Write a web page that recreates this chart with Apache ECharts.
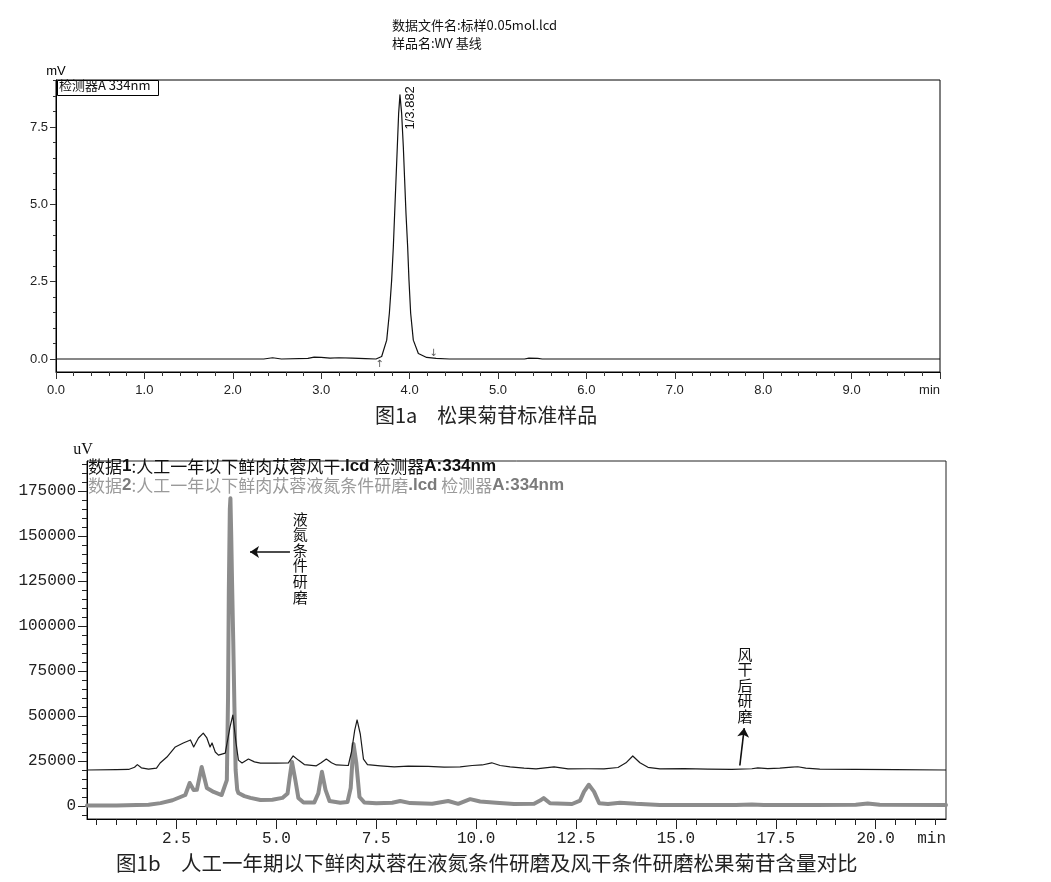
<!DOCTYPE html>
<html><head><meta charset="utf-8">
<script src="https://cdn.jsdelivr.net/npm/echarts@6/dist/echarts.min.js"></script>
<style>html,body{margin:0;padding:0;background:#fff}#c{width:1051px;height:882px}</style>
</head><body><div id="c"></div>
<script>
// ---------- Figure 1a: standard sample (mV vs min) ----------
const stdTime   = [0, 2.35, 2.45, 2.55, 2.85, 2.92, 3.0, 3.1, 3.2, 3.35, 3.5, 3.62, 3.684, 3.741, 3.771, 3.797, 3.816, 3.831, 3.846, 3.861, 3.876, 3.891, 3.910, 3.929, 3.944, 3.959, 3.978, 3.993, 4.012, 4.042, 4.099, 4.193, 4.3, 4.45, 5.3, 5.35, 5.45, 5.5, 10];
const stdSignal = [0, 0, 0.04, 0, 0.02, 0.06, 0.05, 0.03, 0.04, 0.03, 0.01, 0, 0.08, 0.61, 1.48, 2.55, 3.63, 4.71, 5.79, 6.86, 7.94, 8.54, 7.94, 6.86, 5.79, 4.71, 3.63, 2.55, 1.48, 0.61, 0.18, 0.05, 0.02, 0, 0, 0.03, 0.02, 0, 0];
const stdYTicks = [0, 2.5, 5, 7.5];
const stdYMinorTicks = [0, 0.5, 1, 1.5, 2, 2.5, 3, 3.5, 4, 4.5, 5, 5.5, 6, 6.5, 7, 7.5, 8, 8.5, 9];
const stdPeak = {time: 3.891, value: 8.54, label: '1/3.882'};
const stdMarks = [{time: 3.66, text: '↑'}, {time: 4.27, text: '↓'}];

// ---------- Figure 1b: comparison (uV vs min) ----------
const airTime   = [0.26,1.0,1.3,1.45,1.52,1.62,1.8,2.0,2.09,2.26,2.47,2.67,2.85,2.93,3.05,3.17,3.26,3.34,3.39,3.47,3.55,3.72,3.84,3.91,3.99,4.05,4.14,4.3,4.45,4.6,5.0,5.3,5.42,5.55,5.7,6.0,6.12,6.25,6.38,6.5,6.8,6.88,6.96,7.02,7.1,7.18,7.28,7.6,7.95,8.3,8.8,9.2,9.6,9.9,10.15,10.39,10.6,10.85,11.2,11.5,11.95,12.3,12.8,13.2,13.55,13.75,13.92,14.1,14.3,14.6,15.2,15.8,16.4,16.9,17.05,17.3,17.6,17.9,18.05,18.25,18.6,19.5,20.5,21.76];
const airSignal = [20000,20200,20300,21500,23000,21200,20500,21000,23900,27200,32800,35000,36700,32800,37800,40500,37800,32800,35000,30000,28300,29400,43900,50500,35000,25500,23900,26100,24500,23800,23800,24000,27800,25500,23000,22300,24000,26100,24000,22800,22500,30000,42000,47800,40000,26000,23000,22300,21700,22200,22000,21600,21700,22500,22800,24000,22500,21700,21000,20600,21700,20600,20700,20600,21400,24000,27800,24000,21500,20600,20800,20500,20400,20700,21200,20800,21000,21600,21800,21000,20500,20300,20200,20000];
const ln2Time   = [0.26,1.0,1.5,1.8,2.1,2.4,2.6,2.72,2.83,2.93,3.01,3.13,3.26,3.43,3.63,3.76,3.79,3.81,3.835,3.85,3.87,3.89,3.92,3.95,3.98,4.02,4.05,4.2,4.35,4.6,4.9,5.15,5.28,5.34,5.39,5.47,5.55,5.68,5.95,6.05,6.14,6.23,6.33,6.6,6.78,6.86,6.93,7.0,7.08,7.2,7.5,7.9,8.1,8.35,8.9,9.3,9.55,9.85,10.1,10.5,10.95,11.45,11.6,11.69,11.85,12.4,12.6,12.7,12.82,12.95,13.08,13.3,13.6,14.0,14.6,15.5,16.5,16.9,17.2,18.5,19.5,19.8,20.1,21.76];
const ln2Signal = [300,300,600,700,1600,3200,5000,6100,12800,8900,9000,21700,10000,7800,6100,14400,60000,120000,165000,171000,150000,125000,92000,55000,20000,9000,7200,5500,4500,3300,3500,4500,7000,17000,24500,15000,4500,2000,2000,7000,19000,9000,2800,1800,2200,10000,34500,24000,5000,2000,1500,1800,2800,1600,1200,2800,1200,3800,2500,1800,1100,1200,3000,4400,1500,1100,3000,8000,11800,8000,1500,1100,1800,1200,600,500,500,900,500,500,700,1400,700,500];
const cmpXTicks = [2.5, 5, 7.5, 10, 12.5, 15, 17.5, 20];
const cmpXMinorTicks = [0.5,1,1.5,2,3,3.5,4,4.5,5.5,6,6.5,7,8,8.5,9,9.5,10.5,11,11.5,12,13,13.5,14,14.5,15.5,16,16.5,17,18,18.5,19,19.5,20.5,21,21.5];
const cmpYTicks = [0, 25000, 50000, 75000, 100000, 125000, 150000, 175000];
const cmpYMinorTicks = [-5000,0,5000,10000,15000,20000,25000,30000,35000,40000,45000,50000,55000,60000,65000,70000,75000,80000,85000,90000,95000,100000,105000,110000,115000,120000,125000,130000,135000,140000,145000,150000,155000,160000,165000,170000,175000,180000,185000,190000];
const cmpXMax = 21.76;
const noteLN2 = {text: '液\n氮\n条\n件\n研\n磨', time: 5.6, value: 137800, arrowFrom: [5.34, 141100], arrowTo: [4.34, 141100]};
const noteAir = {text: '风\n干\n后\n研\n磨', time: 16.73, value: 67200, arrowFrom: [16.6, 22500], arrowTo: [16.71, 43300]};

const zip = (a, b) => a.map((t, i) => [t, b[i]]);
const CJK = '"Noto Sans CJK SC", sans-serif';
const SANS = '"Liberation Sans", Arial, sans-serif';
const MONO = '"Liberation Mono", monospace';

const chart = echarts.init(document.getElementById('c'), null, {renderer: 'canvas'});
chart.setOption({
  animation: false,
  backgroundColor: '#fff',
  grid: [
    {left: 56, top: 80, width: 884, height: 292, show: true, borderColor: '#000', borderWidth: 1},
    {left: 87, top: 461, width: 859, height: 358, show: true, borderColor: '#222', borderWidth: 1}
  ],
  xAxis: [
    {type: 'value', gridIndex: 0, min: 0, max: 10, interval: 1, position: 'bottom',
     axisLine: {onZero: false, lineStyle: {color: '#000', width: 1}},
     axisTick: {show: true, length: 7, lineStyle: {color: '#333'}},
     minorTick: {show: true, splitNumber: 5, length: 4, lineStyle: {color: '#333'}},
     splitLine: {show: false}, minorSplitLine: {show: false},
     axisLabel: {fontFamily: SANS, fontSize: 13, color: '#222', margin: 12, alignMaxLabel: 'right',
       formatter: v => v === 10 ? 'min' : v.toFixed(1)}},
    {type: 'value', gridIndex: 1, min: 0.26, max: cmpXMax, position: 'bottom',
     axisLine: {onZero: false, lineStyle: {color: '#000', width: 1}},
     axisTick: {show: true, length: 10, customValues: cmpXTicks, lineStyle: {color: '#222'}},
     splitLine: {show: false},
     axisLabel: {fontFamily: MONO, fontSize: 16, color: '#222', margin: 12, alignMaxLabel: 'right',
       customValues: cmpXTicks.concat([cmpXMax]),
       formatter: v => v === cmpXMax ? 'min' : v.toFixed(1)}},
    {type: 'value', gridIndex: 1, min: 0.26, max: cmpXMax, position: 'bottom',
     axisLine: {show: false, onZero: false},
     axisTick: {show: true, length: 6, customValues: cmpXMinorTicks, lineStyle: {color: '#222'}},
     axisLabel: {show: false}, splitLine: {show: false}}
  ],
  yAxis: [
    {type: 'value', gridIndex: 0, min: -0.42, max: 9.02, position: 'left',
     name: 'mV', nameLocation: 'end', nameGap: 2,
     nameTextStyle: {fontFamily: SANS, fontSize: 13, color: '#000'},
     axisLine: {show: true, lineStyle: {color: '#000', width: 1}},
     axisTick: {show: true, length: 6, customValues: stdYTicks, lineStyle: {color: '#333'}},
     splitLine: {show: false},
     axisLabel: {fontFamily: SANS, fontSize: 13, color: '#222', margin: 8,
       customValues: stdYTicks, formatter: v => v.toFixed(1)}},
    {type: 'value', gridIndex: 0, min: -0.42, max: 9.02, position: 'left', offset: 0,
     axisLine: {show: false},
     axisTick: {show: true, length: 3, customValues: stdYMinorTicks, lineStyle: {color: '#333'}},
     axisLabel: {show: false}, splitLine: {show: false}},
    {type: 'value', gridIndex: 1, min: -7222, max: 191667, position: 'left',
     name: 'uV', nameLocation: 'end', nameGap: 3,
     nameTextStyle: {fontFamily: '"Liberation Serif", serif', fontSize: 16, color: '#111', padding: [0, 8, 0, 0]},
     axisLine: {show: true, lineStyle: {color: '#000', width: 1}},
     axisTick: {show: true, length: 9, customValues: cmpYTicks, lineStyle: {color: '#222'}},
     splitLine: {show: false},
     axisLabel: {fontFamily: MONO, fontSize: 16, color: '#222', margin: 11,
       customValues: cmpYTicks, formatter: v => String(v)}},
    {type: 'value', gridIndex: 1, min: -7222, max: 191667, position: 'left', offset: 0,
     axisLine: {show: false},
     axisTick: {show: true, length: 5, customValues: cmpYMinorTicks, lineStyle: {color: '#222'}},
     axisLabel: {show: false}, splitLine: {show: false}}
  ],
  series: [
    {type: 'line', name: '检测器A 334nm', xAxisIndex: 0, yAxisIndex: 0, data: zip(stdTime, stdSignal),
     symbol: 'none', lineStyle: {color: '#111', width: 1.2, join: 'round'},
     markPoint: {symbol: 'circle', symbolSize: 0, silent: true, itemStyle: {color: 'rgba(0,0,0,0)'},
       data: [
         {coord: [stdPeak.time, stdPeak.value],
          label: {show: true, position: 'inside', formatter: stdPeak.label, rotate: 90, offset: [-13, 10],
                  fontFamily: SANS, fontSize: 13, color: '#111'}}
       ].concat(stdMarks.map((m, i) => ({coord: [m.time, 0],
          label: {show: true, position: 'inside', formatter: m.text, offset: [0, i === 0 ? 5 : -6],
                  fontFamily: '"DejaVu Sans", sans-serif', fontSize: 10, color: '#555'}})))}},
    {type: 'line', name: '数据2', xAxisIndex: 1, yAxisIndex: 2, data: zip(ln2Time, ln2Signal),
     symbol: 'none', lineStyle: {color: '#8c8c8c', width: 4, join: 'round', cap: 'round'}},
    {type: 'line', name: '数据1', xAxisIndex: 1, yAxisIndex: 2, data: zip(airTime, airSignal),
     symbol: 'none', lineStyle: {color: '#1a1a1a', width: 1.2, join: 'round'},
     markLine: {silent: true, symbol: ['none', 'arrow'], symbolSize: 9, label: {show: false},
       lineStyle: {color: '#111', width: 1.6, type: 'solid'},
       data: [
         [{coord: noteLN2.arrowFrom}, {coord: noteLN2.arrowTo}],
         [{coord: noteAir.arrowFrom}, {coord: noteAir.arrowTo}]
       ]},
     markPoint: {symbol: 'circle', symbolSize: 0, silent: true, itemStyle: {color: 'rgba(0,0,0,0)'},
       label: {show: true, position: 'inside', fontFamily: CJK, fontSize: 15, lineHeight: 15.6, color: '#111'},
       data: [
         {coord: [noteLN2.time, noteLN2.value], label: {formatter: noteLN2.text}},
         {coord: [noteAir.time, noteAir.value], label: {formatter: noteAir.text}}
       ]}}
  ],
  graphic: [
    {type: 'text', left: 392, top: 19, z: 10, style: {text: '数据文件名:标样0.05mol.lcd', font: '13px ' + CJK, fill: '#111'}},
    {type: 'text', left: 392, top: 37, z: 10, style: {text: '样品名:WY 基线', font: '13px ' + CJK, fill: '#111'}},
    {type: 'rect', left: 57, top: 80, z: 10, shape: {width: 101, height: 15}, style: {fill: '#fff', stroke: '#000', lineWidth: 1}},
    {type: 'text', left: 59, top: 79, z: 11, style: {text: '检测器A 334nm', font: '13px ' + CJK, fill: '#111'}},
    {type: 'text', left: 375, top: 405, z: 10, style: {text: '图1a　松果菊苷标准样品', font: '20px ' + CJK, fill: '#222'}},
    {type: 'text', left: 88, top: 458, z: 10, style: {
      text: '{n|数据}{b|1}{n|:人工一年以下鲜肉苁蓉风干}{b|.lcd}{n| 检测器}{b|A:334nm}',
      rich: {n: {fontSize: 17, fontFamily: CJK, fill: '#111'}, b: {fontSize: 17, fontFamily: SANS, fontWeight: 'bold', fill: '#111'}}}},
    {type: 'text', left: 88, top: 477, z: 10, style: {
      text: '{n|数据}{b|2}{n|:人工一年以下鲜肉苁蓉液氮条件研磨}{b|.lcd}{n| 检测器}{b|A:334nm}',
      rich: {n: {fontSize: 17, fontFamily: CJK, fill: '#9a9a9a'}, b: {fontSize: 17, fontFamily: SANS, fontWeight: 'bold', fill: '#7a7a7a'}}}},
    {type: 'text', left: 116, top: 853, z: 10, style: {text: '图1b　人工一年期以下鲜肉苁蓉在液氮条件研磨及风干条件研磨松果菊苷含量对比', font: '20.5px ' + CJK, fill: '#222'}}
  ]
});
</script>
</body></html>
